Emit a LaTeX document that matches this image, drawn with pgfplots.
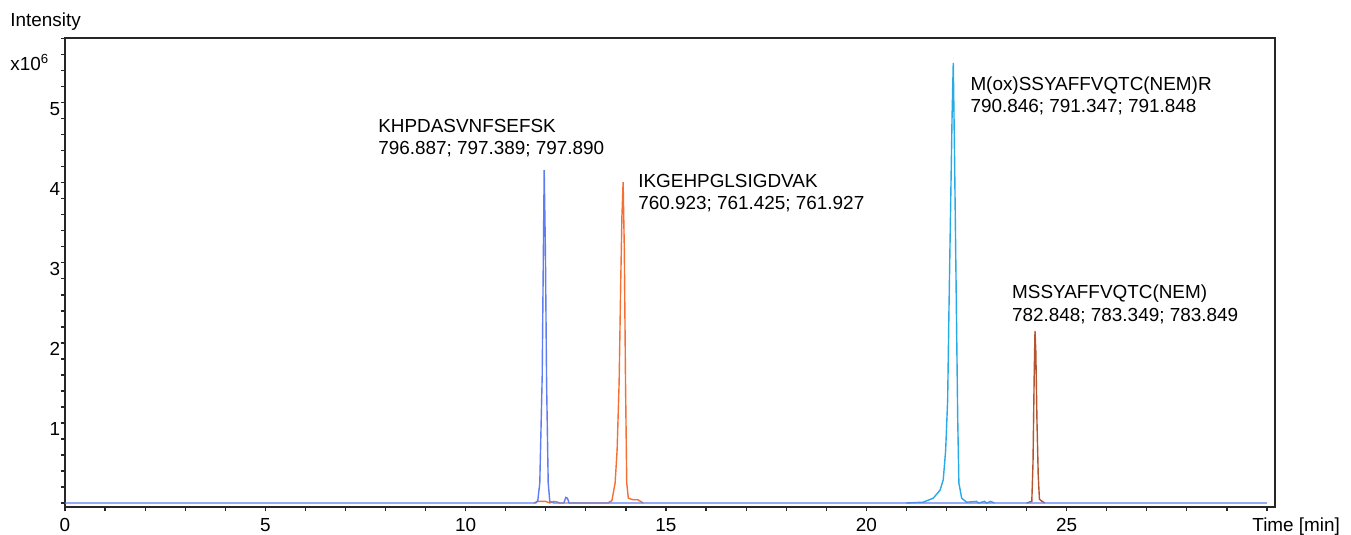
\documentclass[border=0pt]{standalone}
\usepackage{pgfplots}
\pgfplotsset{compat=1.18}
\usepackage{fontspec}
\setmainfont{Liberation Sans}
\definecolor{cBlue}{RGB}{95,125,240}
\definecolor{cOrange}{RGB}{245,110,50}
\definecolor{cCyan}{RGB}{40,170,230}
\definecolor{cBrown}{RGB}{180,85,45}
\newcommand{\lf}{\fontsize{9.45pt}{11pt}\selectfont}
\begin{document}
\begin{tikzpicture}
\begin{axis}[
  at={(0,0)}, anchor=south west,
  scale only axis, width=605pt, height=234.5pt,
  xmin=0, xmax=30.2, ymin=-0.05, ymax=5.81,
  axis line style={black!85, line width=0.6pt},
  tick style={black!85, line width=0.6pt},
  tick align=outside,
  major tick length=2.2pt, minor tick length=2pt,
  xtick={0,5,...,30}, xticklabels={0,5,10,15,20,25,{}},
  minor xtick={0,1,...,30},
  ytick={1,2,3,4,5}, yticklabels={1,2,3,4,5},
  minor ytick={0,0.2,0.4,0.6,0.8,1.2,1.4,1.6,1.8,2.2,2.4,2.6,2.8,3.2,3.4,3.6,3.8,4.2,4.4,4.6,4.8,5.2,5.4,5.6,5.8},
  xtick pos=bottom, ytick pos=left,
  ticklabel style={font=\lf},
  yticklabel style={inner xsep=0pt, yshift=-3pt},
  clip=false,
  every axis plot/.append style={line width=0.7pt},
]
\addplot[cCyan] coordinates {
 (21.0,0) (21.42,0.01) (21.67,0.06) (21.84,0.16) (21.92,0.29) (21.98,0.66)
 (22.03,1.29) (22.06,2.33) (22.10,3.58) (22.14,4.83) (22.17,5.50)
 (22.20,4.41) (22.24,2.75) (22.28,1.08) (22.31,0.25) (22.38,0.06)
 (22.50,0.01) (22.75,0.02) (22.8,0) (22.95,0.02) (23.0,0) (23.1,0.02) (23.2,0)
};
\addplot[cBrown] coordinates {
 (24.0,0) (24.13,0.02) (24.16,0.5) (24.19,1.6) (24.21,2.15) (24.23,1.9)
 (24.26,1.0) (24.29,0.35) (24.32,0.05) (24.36,0.03) (24.45,0)
};
\addplot[cOrange] coordinates {
 (11.7,0) (11.8,0.02) (12.0,0.02) (12.1,0) (12.2,0.02) (12.3,0.01) (12.35,0)
 (13.55,0) (13.65,0.03) (13.73,0.25) (13.78,0.66) (13.83,1.5) (13.87,2.75)
 (13.90,3.58) (13.93,4.01) (13.96,3.16) (13.99,1.5) (14.02,0.25)
 (14.06,0.06) (14.18,0.04) (14.30,0.04) (14.43,0)
};
\addplot[cBlue] coordinates {
 (0,0) (11.75,0) (11.80,0.03) (11.85,0.25) (11.91,1.58) (11.94,3.16)
 (11.96,4.16) (11.99,3.16) (12.02,1.5) (12.06,0.25) (12.10,0.02)
 (12.2,0) (12.45,0) (12.50,0.07) (12.54,0.06) (12.58,0) (30,0)
};
\node[font=\lf, anchor=base west, inner sep=0pt] at (axis cs:7.81,4.625) {KHPDASVNFSEFSK};
\node[font=\lf, anchor=base west, inner sep=0pt] at (axis cs:7.81,4.35) {796.887; 797.389; 797.890};
\node[font=\lf, anchor=base west, inner sep=0pt] at (axis cs:14.30,3.94) {IKGEHPGLSIGDVAK};
\node[font=\lf, anchor=base west, inner sep=0pt] at (axis cs:14.30,3.6625) {760.923; 761.425; 761.927};
\node[font=\lf, anchor=base west, inner sep=0pt] at (axis cs:22.59,5.15) {M(ox)SSYAFFVQTC(NEM)R};
\node[font=\lf, anchor=base west, inner sep=0pt] at (axis cs:22.59,4.875) {790.846; 791.347; 791.848};
\node[font=\lf, anchor=base west, inner sep=0pt] at (axis cs:23.63,2.55) {MSSYAFFVQTC(NEM)};
\node[font=\lf, anchor=base west, inner sep=0pt] at (axis cs:23.63,2.2625) {782.848; 783.349; 783.849};
\end{axis}
\node[font=\lf, anchor=base west, inner sep=0pt] at (-27.5pt,240pt) {Intensity};
\node[font=\lf, anchor=base west, inner sep=0pt] at (-27.5pt,218pt) {x10\textsuperscript{6}};
\node[font=\lf, anchor=base west, inner sep=0pt] at (593.5pt,-12.5pt) {Time [min]};
\pgfresetboundingbox
\useasboundingbox (-32.5pt,-14pt) rectangle (643pt,253.5pt);
\end{tikzpicture}
\end{document}
